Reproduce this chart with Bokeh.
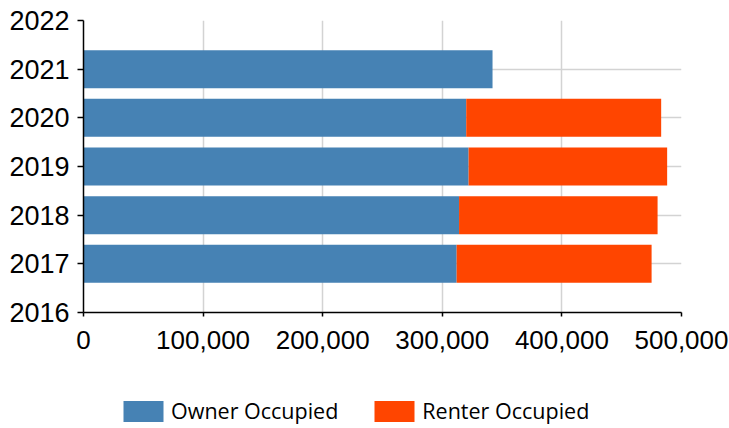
from bokeh.plotting import figure
from bokeh.layouts import column
from bokeh.models import ColumnDataSource, Range1d, FixedTicker, NumeralTickFormatter, Legend, LegendItem
from bokeh.embed import file_html
from bokeh.resources import INLINE

years = [2017, 2018, 2019, 2020, 2021]
owner = [312000, 314000, 322000, 320000, 342000]
renter = [163000, 166000, 166000, 163000, 0]
series = ["Owner Occupied", "Renter Occupied"]
colors = ["#4682B4", "#FF4500"]
y_ticks = [2016, 2017, 2018, 2019, 2020, 2021, 2022]
x_ticks = [0, 100000, 200000, 300000, 400000, 500000]

source = ColumnDataSource(dict(year=years, **{series[0]: owner, series[1]: renter}))

p = figure(width=729, height=370, output_backend="svg", toolbar_location=None,
           x_range=Range1d(0, 500000), y_range=Range1d(2016, 2022),
           min_border_left=83, min_border_right=48, min_border_top=20, min_border_bottom=58)
p.outline_line_color = None

rs = p.hbar_stack(series, y="year", height=0.78, color=colors, source=source, line_color=None)

p.xaxis.ticker = FixedTicker(ticks=x_ticks)
p.yaxis.ticker = FixedTicker(ticks=y_ticks)
p.xaxis.formatter = NumeralTickFormatter(format="0,0")
for ax in (p.xaxis, p.yaxis):
    ax.minor_tick_line_color = None
    ax.major_tick_in = 0
    ax.axis_line_color = "black"
    ax.axis_line_width = 1.5
    ax.major_tick_line_color = "black"
    ax.major_tick_line_width = 1.5
    ax.major_label_text_font = "Liberation Sans"
    ax.major_label_text_color = "black"
p.xaxis.major_tick_out = 4
p.yaxis.major_tick_out = 6
p.xaxis.major_label_text_font_size = "26px"
p.yaxis.major_label_text_font_size = "27px"
p.xaxis.major_label_standoff = 14
p.yaxis.major_label_standoff = 8

p.grid.grid_line_color = "#d3d3d3"
p.grid.grid_line_width = 1.5

# legend in a separate strip below the chart (renderers hidden, legend keys only)
lg = figure(width=729, height=58, output_backend="svg", toolbar_location=None,
            x_range=Range1d(0, 1), y_range=Range1d(0, 1),
            min_border_left=0, min_border_right=0, min_border_top=0, min_border_bottom=0)
lg.axis.visible = False
lg.grid.visible = False
lg.outline_line_color = None
keys = lg.hbar_stack(series, y="year", height=0.78, color=colors, source=source, line_color=None)
for k in keys:
    k.visible = False

legend = Legend(items=[LegendItem(label=series[i], renderers=[keys[i]]) for i in range(2)],
                orientation="horizontal", location=(35, 3))
legend.glyph_width = 50
legend.glyph_height = 26
legend.label_height = 26
legend.label_standoff = 3
legend.spacing = 31
legend.padding = 0
legend.margin = 0
legend.border_line_color = None
legend.background_fill_alpha = 0
legend.inactive_fill_alpha = 0
legend.click_policy = "none"
legend.label_text_font = "Open Sans"
legend.label_text_font_size = "21.5px"
legend.label_text_color = "black"
lg.add_layout(legend, "center")

layout = column(p, lg, spacing=0)
open("out.html", "w").write(file_html(layout, INLINE))
